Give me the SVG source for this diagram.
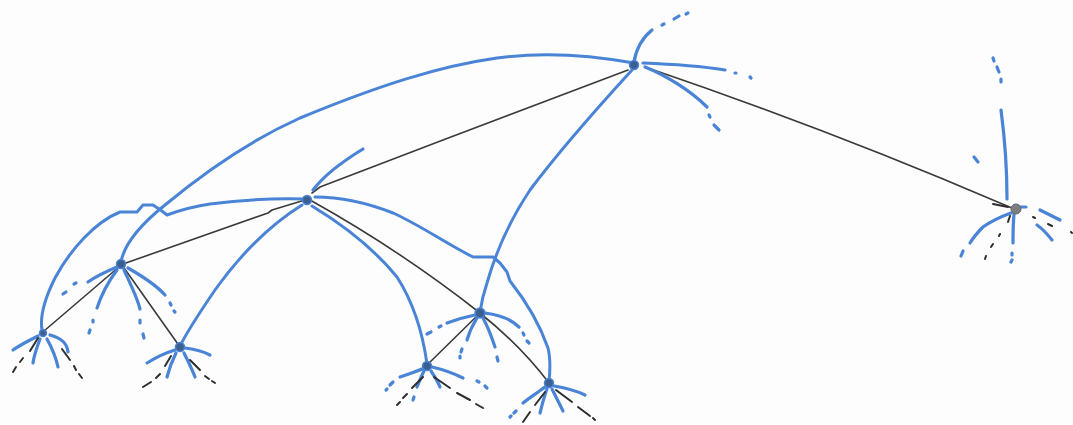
<svg xmlns="http://www.w3.org/2000/svg" width="1073" height="425" viewBox="0 0 1073 425">
<style>
.bg{fill:#fdfdfd}
.ed{fill:none;stroke:#3a3a3a;stroke-width:1.6;stroke-linecap:round;stroke-linejoin:round}
.bl{fill:none;stroke:#4a84d6;stroke-width:3;stroke-linecap:round;stroke-linejoin:round}
.st{fill:none;stroke:#4a84d6;stroke-width:3.2;stroke-linecap:round}
.dt{fill:none;stroke:#4a84d6;stroke-width:3.2;stroke-linecap:round}
.bk{fill:none;stroke:#2e2e2e;stroke-width:2;stroke-linecap:round}
.nd{fill:#3b5f8f;stroke:#4a84d6;stroke-width:1.5}
</style>
<rect class="bg" x="0" y="0" width="1073" height="425"/>
<g id="connectors">
  <!-- black tree edges -->
  <path class="ed" d="M628,70 L443,140 L320,187 L312,193"/>
  <path class="ed" d="M645,67 Q830,130 1000,203 L1012,208"/>
  <path class="ed" d="M305,200 L272,210 L268,213 L123,264"/>
  <path class="ed" d="M120,266 L44,331"/>
  <path class="ed" d="M122,265 L180,347"/>
  <path class="ed" d="M310,200 Q400,250 480,313"/>
  <path class="ed" d="M479,314 L427,365"/>
  <path class="ed" d="M481,314 Q520,345 549,383"/>
  <!-- blue arcs -->
  <path class="bl" d="M634,63 C590,55 540,52 497,58 C440,66 380,85 300,118 C240,145 195,180 165,205 C140,225 124,245 121,262"/>
  <path class="bl" d="M305,199 C270,198 240,200 210,204 C190,207 175,212 167,215 L162,211 L153,205 L143,205 L137,212 L120,212 C95,222 70,250 55,278 C44,300 40,318 42,330"/>
  <path class="bl" d="M302,205 C270,225 240,255 215,290 C200,312 188,330 180,346"/>
  <path class="bl" d="M312,206 C345,226 375,250 397,277 C415,305 423,335 427,364"/>
  <path class="bl" d="M315,197 C340,197 365,202 393,213 C420,225 445,243 473,257 L493,257 L500,263 L507,272 L510,281 C525,300 540,325 548,348 C551,360 550,372 549,382"/>
  <path class="bl" d="M632,70 C600,105 560,150 530,190 C510,220 495,255 487,283 C483,295 481,305 480,312"/>
</g>
<g id="node-A">
  <path class="st" d="M634,62 C636,50 642,38 652,30"/>
  <path class="dt" d="M662,25 L664,24 M674,19 L679,16 M686,14 L688,13"/>
  <path class="st" d="M643,63 C670,64 700,66 725,70"/>
  <path class="dt" d="M735,73 L736,73 M750,77 L751,78"/>
  <path class="st" d="M645,67 C665,75 690,90 707,107"/>
  <path class="dt" d="M709,115 L710,117 M714,125 L719,130"/>
  <circle class="nd" cx="634" cy="65" r="4.5"/>
</g>
<g id="node-B">
  <path class="st" d="M313,190 C322,178 340,163 363,149"/>
  <circle class="nd" cx="307" cy="200" r="4.5"/>
</g>
<g id="node-C">
  <path class="st" d="M117,267 C105,272 95,277 88,282"/>
  <path class="dt" d="M74,284 L76,283 M63,294 L66,292"/>
  <path class="st" d="M117,270 C108,282 101,296 97,308"/>
  <path class="dt" d="M93,320 L93,322 M89,333 L90,330"/>
  <path class="st" d="M124,270 C130,283 137,297 140,309"/>
  <path class="dt" d="M140,320 L140,323 M143,334 L144,338"/>
  <path class="st" d="M128,268 C142,276 156,285 165,295"/>
  <path class="dt" d="M170,303 L171,305 M174,311 L175,312"/>
  <circle class="nd" cx="121" cy="264" r="4.5"/>
</g>
<g id="node-D">
  <path class="st" d="M38,336 C30,340 20,345 13,350"/>
  <path class="st" d="M40,339 C37,347 34,355 33,363"/>
  <path class="st" d="M47,339 C52,348 56,358 58,367"/>
  <path class="st" d="M50,335 C60,338 67,342 68,352"/>
  <path class="bk" d="M38,338 L30,351 M23,358 L20,362 M16,367 L13,372"/>
  <path class="bk" d="M62,349 L70,360 M74,366 L76,370 M79,374 L82,378"/>
  <circle class="nd" cx="43" cy="333" r="3.5"/>
</g>
<g id="node-E">
  <path class="st" d="M175,350 C165,353 155,358 147,363"/>
  <path class="st" d="M176,353 C172,361 169,369 167,377"/>
  <path class="st" d="M184,353 C188,361 192,369 195,377"/>
  <path class="st" d="M185,348 C195,349 204,352 210,355"/>
  <path class="bk" d="M171,356 L165,366 M160,374 L156,378 M151,382 L143,387"/>
  <path class="bk" d="M190,360 L200,370 M205,376 L209,379 M212,381 L215,383"/>
  <circle class="nd" cx="180" cy="347" r="4.5"/>
</g>
<g id="node-F">
  <path class="st" d="M475,315 C465,317 455,320 447,323"/>
  <path class="dt" d="M439,327 L441,326 M427,334 L431,332"/>
  <path class="st" d="M477,318 C472,326 469,333 467,340"/>
  <path class="dt" d="M462,349 L461,352 M460,356 L460,358"/>
  <path class="st" d="M483,318 C488,327 492,338 495,347"/>
  <path class="dt" d="M497,357 L498,361"/>
  <path class="st" d="M485,313 C500,315 512,320 519,327"/>
  <path class="dt" d="M523,333 L524,335 M527,341 L529,343"/>
  <circle class="nd" cx="480" cy="313" r="5"/>
</g>
<g id="node-G">
  <path class="st" d="M422,369 C415,372 406,375 400,377"/>
  <path class="dt" d="M393,382 L390,385 M387,389 L386,390"/>
  <path class="st" d="M424,371 C421,377 419,382 417,387"/>
  <path class="dt" d="M414,397 L413,400"/>
  <path class="st" d="M431,371 C435,377 438,382 440,387"/>
  <path class="st" d="M432,367 C445,370 455,374 463,378"/>
  <path class="dt" d="M477,381 L479,382 M485,386 L487,388"/>
  <path class="bk" d="M423,377 L412,388 M407,394 L403,398 M400,402 L397,405"/>
  <path class="bk" d="M434,377 L450,388 M457,393 L470,400 M476,404 L483,408"/>
  <circle class="nd" cx="427" cy="366" r="4.5"/>
</g>
<g id="node-H">
  <path class="st" d="M545,387 C537,393 529,398 523,403"/>
  <path class="dt" d="M516,411 L514,413 M511,416 L510,417"/>
  <path class="st" d="M547,389 C544,397 542,405 540,413"/>
  <path class="st" d="M552,389 C556,397 560,405 563,411"/>
  <path class="st" d="M554,386 C566,388 577,391 585,395"/>
  <path class="bk" d="M545,392 L535,405 M530,412 L523,422"/>
  <path class="bk" d="M556,390 L572,402 M578,407 L590,416 M593,418 L595,420"/>
  <circle class="nd" cx="549" cy="383" r="4.5" fill="none"/>
</g>
<g id="node-I">
  <path class="st" d="M1001,110 C1005,140 1007,170 1007,199"/>
  <path class="dt" d="M993,58 L994,61 M997,67 L999,72 M1001,79 L1001,82"/>
  <path class="st" d="M974,157 L978,162"/>
  <path class="st" d="M1011,213 C1000,217 990,222 983,227 C978,232 973,238 970,243"/>
  <path class="dt" d="M963,251 L961,256"/>
  <path class="st" d="M1014,214 C1013,225 1013,235 1013,243"/>
  <path class="dt" d="M1012,253 L1012,255 M1012,260 L1011,262"/>
  <path class="st" d="M1020,207 L1026,207 M1040,210 L1060,220"/>
  <path class="st" d="M1037,225 C1043,229 1048,235 1052,240"/>
  <path class="bk" d="M993,204 L1008,207 M1010,216 L1008,222 M1033,217 L1035,218 M1048,224 L1052,226 M1071,232 L1072,233"/>
  <path class="bk" d="M1000,234 L999,236 M993,244 L991,247 M986,256 L985,259"/>
  <circle cx="1016" cy="209" r="5" fill="#7d7d7d" stroke="#5a6a80" stroke-width="1"/>
</g>
</svg>
